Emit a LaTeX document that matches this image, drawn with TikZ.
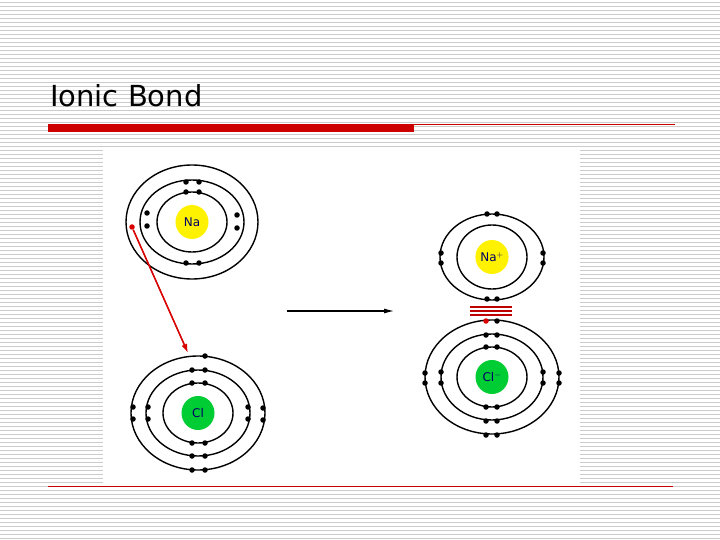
\documentclass[tikz,border=0pt]{standalone}
\usepackage{fontspec}
\setmainfont{DejaVu Sans}
\usetikzlibrary{shapes.geometric,arrows.meta}
\begin{document}
\begin{tikzpicture}[x=1pt,y=-1pt,
  ring/.style={draw=black,line width=1.4pt},
  el/.style={circle,fill=black,inner sep=0pt,minimum size=5.5pt},
  rel/.style={circle,fill=red!85!black,inner sep=0pt,minimum size=5.5pt},
  nuc/.style={ellipse,minimum width=33pt,minimum height=34pt,inner sep=0pt,font=\fontsize{12}{14}\selectfont,text=blue!40!black}]
\useasboundingbox (0,0) rectangle (720,540);
\fill[white] (0,0) rectangle (720,540);
\foreach \y in {2,6,...,538} \draw[black!20,line width=0.8pt] (0,\y) -- (720,\y);
\node[anchor=west,font=\fontsize{29}{34}\selectfont,inner sep=0pt] (title) at (50,96) {Ionic Bond};
\fill[red!80!black] (48,124) rectangle (414,132);
\draw[red!80!black,line width=0.6pt] (414,124.5) -- (675,124.5);
\draw[red!80!black,line width=0.8pt] (48,486) -- (673,486);
\fill[white] (103,150) rectangle (580,483);
% Na atom
\begin{scope}[shift={(192,222)}]
\draw[ring] (0,0) ellipse (66 and 57); \draw[ring] (0,0) ellipse (52 and 42); \draw[ring] (0,0) ellipse (35 and 30);
\node[nuc,fill=yellow] (na) at (0,0) {Na};
\foreach \p in {(-6,-40),(7,-40),(-6,-30),(7,-30),(-6,41),(7,41),(-45,-9),(-45,4),(45,-7),(45,6)} \node[el] at \p {};
\node[rel] (e) at (-60,5) {};
\end{scope}
% Cl atom
\begin{scope}[shift={(198,413)}]
\draw[ring] (0,0) ellipse (67 and 57); \draw[ring] (0,0) ellipse (52 and 43); \draw[ring] (0,0) ellipse (35 and 30);
\node[nuc,fill=green!60!teal] (cl) at (0,0) {Cl};
\node[el] at (7,-57) {};
\foreach \p in {(-6,-43),(7,-43),(-6,-30),(7,-30),(-6,30),(7,30),(-6,43),(7,43),(-6,57),(7,57),
  (-65,-6),(-65,6),(-50,-6),(-50,6),(50,-6),(50,6),(65,-5),(65,7)} \node[el] at \p {};
\coordinate (target) at (-10,-60);
\end{scope}
\draw[red!85!black,line width=1.6pt,-{Latex[length=9pt,width=6pt]}] (e) -- (target);
% arrow
\coordinate (a1) at (287,311); \coordinate (a2) at (395,311);
\draw[line width=1.6pt,-{Latex[length=11pt,width=5pt]}] (a1) -- (a2);
% Na+
\begin{scope}[shift={(492,257)}]
\draw[ring] (0,0) ellipse (52 and 43); \draw[ring] (0,0) ellipse (35 and 32);
\node[nuc,fill=yellow] (nap) at (0,0) {Na$^+$};
\foreach \p in {(-5,-43),(5,-43),(-5,42),(5,42),(-51,-4),(-51,6),(51,-4),(51,6)} \node[el] at \p {};
\end{scope}
\foreach \y in {307,311,315} \draw[red!75!black,line width=1.2pt] (470,\y) -- (512,\y);
% Cl-
\begin{scope}[shift={(492,377)}]
\draw[ring] (0,0) ellipse (67 and 57); \draw[ring] (0,0) ellipse (51 and 43); \draw[ring] (0,0) ellipse (35 and 30);
\node[nuc,fill=green!60!teal] (clm) at (0,0) {Cl$^-$};
\node[rel] at (-6,-56) {};
\foreach \p in {(5,-56),(-6,-42),(5,-42),(-6,-30),(5,-30),(-6,30),(5,30),(-6,44),(5,44),(-6,58),(5,58),
  (-67,-4),(-67,6),(-51,-5),(-51,6),(51,-5),(51,6),(67,-4),(67,6)} \node[el] at \p {};
\end{scope}
\end{tikzpicture}
\end{document}
